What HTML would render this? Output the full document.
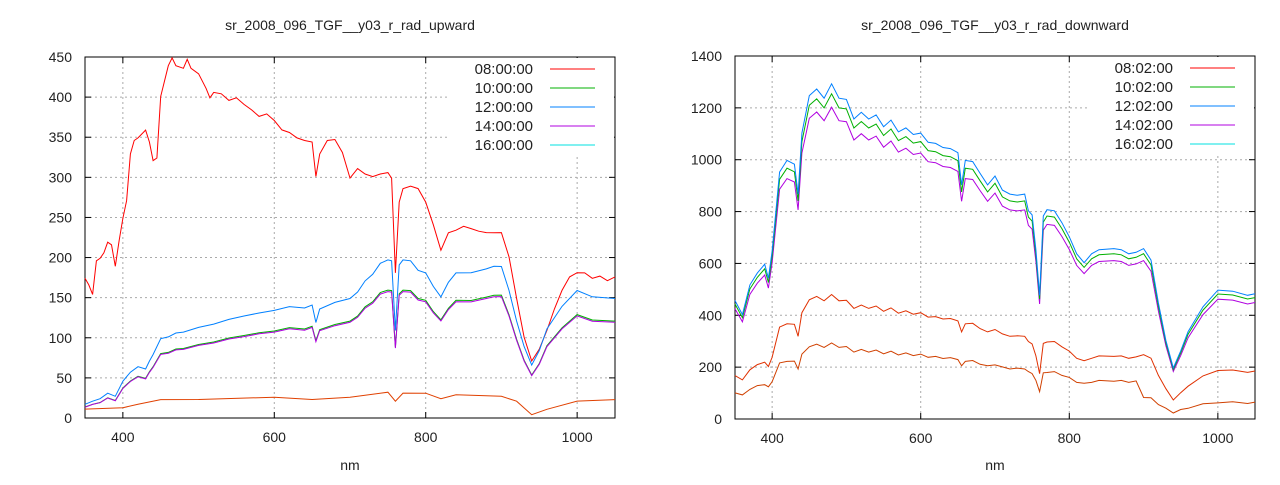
<!DOCTYPE html>
<html><head><meta charset="utf-8"><style>
body{margin:0;background:#fff;}
svg text{font-family:"Liberation Sans",sans-serif;font-size:14px;fill:#222;}
</style></head><body>
<svg id="s" width="1280" height="480" xmlns="http://www.w3.org/2000/svg"></svg>
<script>
const S=document.getElementById('s');let h='';
const blueL=[[350,18],[360,20],[370,25],[380,30],[390,28],[400,45],[410,58],[420,63],[430,62],[435,70],[440,80],[450,98],[460,102],[470,105],[480,108],[500,112],[520,118],[540,122],[560,128],[580,130],[600,135],[620,138],[640,138],[650,140],[655,120],[660,135],[680,145],[700,148],[710,158],[720,170],[730,180],[740,192],[750,198],[755,195],[760,110],[765,190],[770,198],[780,195],[790,185],[800,180],[810,165],[820,150],[830,170],[840,180],[860,182],[880,185],[890,190],[900,188],[910,160],[920,120],[930,90],[940,65],[950,85],[960,110],[980,140],[1000,158],[1020,152],[1050,148]];
const redL=[[350,175],[355,165],[360,155],[365,195],[370,200],[375,205],[380,220],[385,215],[390,190],[395,220],[400,250],[405,270],[410,330],[415,345],[420,350],[430,358],[435,345],[440,320],[445,325],[450,400],[460,440],[465,448],[470,440],[480,435],[485,448],[490,435],[500,430],[510,410],[515,400],[520,405],[530,405],[540,395],[550,400],[560,390],[570,385],[580,375],[590,380],[600,370],[610,360],[620,355],[630,350],[640,345],[650,345],[655,300],[660,330],[670,345],[680,348],[690,330],[700,300],[710,310],[720,305],[730,300],[740,305],[750,305],[755,300],[760,180],[765,270],[770,285],[780,290],[790,285],[800,270],[810,240],[820,210],[830,230],[840,235],[850,238],[860,237],[870,232],[880,232],[890,230],[900,232],[910,200],[920,150],[930,100],[940,72],[950,85],[960,110],[970,135],[980,160],[990,175],[1000,182],[1010,180],[1020,175],[1030,176],[1040,172],[1050,175]];
const oraL=[[350,12],[400,12],[420,18],[450,22],[500,24],[600,25],[650,24],[700,25],[750,33],[760,20],[770,32],[800,30],[820,25],[840,28],[900,28],[920,20],[940,5],[960,10],[1000,22],[1050,22]];
const blueR=[[350,460],[360,400],[370,520],[380,560],[390,600],[395,540],[400,650],[410,950],[420,1000],[430,980],[435,870],[440,1100],[450,1250],[460,1270],[470,1240],[480,1290],[490,1240],[500,1230],[510,1160],[520,1180],[530,1160],[540,1170],[550,1130],[560,1150],[570,1110],[580,1120],[590,1100],[600,1100],[610,1070],[620,1060],[630,1050],[640,1040],[650,1030],[655,900],[660,1000],[670,990],[680,950],[690,900],[700,940],[710,880],[720,870],[730,860],[740,870],[745,800],[750,790],[755,650],[760,480],[765,780],[770,810],[780,800],[790,760],[800,700],[810,640],[820,600],[830,640],[840,650],[860,660],[870,650],[880,640],[890,640],[900,660],[910,610],[920,450],[930,300],[940,200],[950,260],[960,340],[980,430],[1000,500],[1020,490],[1040,480],[1050,480]];
const lowR=blueR.map(([n,v])=>[n,v*(n<900?0.225:0.13)]);
const midR=blueR.map(([n,v])=>[n,v*(n<900?0.37:0.38)]);
function plot(x0,x1,y0,y1,ymax,ystep,title,leg,series){
 const X=n=>x0+(n-350)*(x1-x0)/700, Y=v=>y1-v*(y1-y0)/ymax;
 h+=`<text x="${(x0+x1)/2}" y="30" text-anchor="middle">${title}</text>`;
 h+=`<text x="${(x0+x1)/2}" y="470" text-anchor="middle">nm</text>`;
 for(let n=400;n<=1000;n+=200){const x=X(n);h+=`<line x1="${x}" y1="${y0}" x2="${x}" y2="${y1}" stroke="#aaa" stroke-dasharray="2,3"/><line x1="${x}" y1="${y1}" x2="${x}" y2="${y1-6}" stroke="#000"/><line x1="${x}" y1="${y0}" x2="${x}" y2="${y0+6}" stroke="#000"/><text x="${x}" y="${y1+24}" text-anchor="middle">${n}</text>`;}
 for(let v=0;v<=ymax;v+=ystep){const y=Y(v);if(v>0&&v<ymax)h+=`<line x1="${x0}" y1="${y}" x2="${x1}" y2="${y}" stroke="#aaa" stroke-dasharray="2,3"/>`;h+=`<line x1="${x0}" y1="${y}" x2="${x0+6}" y2="${y}" stroke="#000"/><line x1="${x1}" y1="${y}" x2="${x1-6}" y2="${y}" stroke="#000"/><text x="${x0-13}" y="${y+5}" text-anchor="end">${v}</text>`;}
 h+=`<rect x="${x0}" y="${y0}" width="${x1-x0}" height="${y1-y0}" fill="none" stroke="#000"/>`;
 h+=`<rect x="${x1-165}" y="${y0+1}" width="164" height="98" fill="#fff"/>`;
 for(const [d,c,k] of series){
  let p=d.map(([n,v],i)=>{let vv=v*k+(i%2?1:-1)*ymax*0.002;return (i?'L':'M')+X(n).toFixed(1)+','+Y(Math.max(0,vv)).toFixed(1)}).join('');
  h+=`<path d="${p}" fill="none" stroke="${c}" stroke-width="1"/>`;
 }
 const cols=['#ff0000','#00b000','#0080ff','#b000e0','#00e0e0'];
 leg.forEach((t,i)=>{const y=y0+12+i*19;h+=`<text x="${x1-82}" y="${y+5}" text-anchor="end" style="font-size:15px">${t}</text><line x1="${x1-65}" y1="${y}" x2="${x1-20}" y2="${y}" stroke="${cols[i]}"/>`;});
}
plot(85,615,57,418,450,50,'sr_2008_096_TGF__y03_r_rad_upward',['08:00:00','10:00:00','12:00:00','14:00:00','16:00:00'],
 [[oraL,'#e04000',1],[redL,'#ff0000',1],[blueL,'#00b000',0.81],[blueL,'#b000e0',0.8],[blueL,'#0080ff',1]]);
plot(735,1255,56,419,1400,200,'sr_2008_096_TGF__y03_r_rad_downward',['08:02:00','10:02:00','12:02:00','14:02:00','16:02:00'],
 [[midR,'#e03000',1],[lowR,'#d04000',1],[blueR,'#b000e0',0.93],[blueR,'#00b000',0.97],[blueR,'#0080ff',1]]);
S.innerHTML=h;
</script>
</body></html>
